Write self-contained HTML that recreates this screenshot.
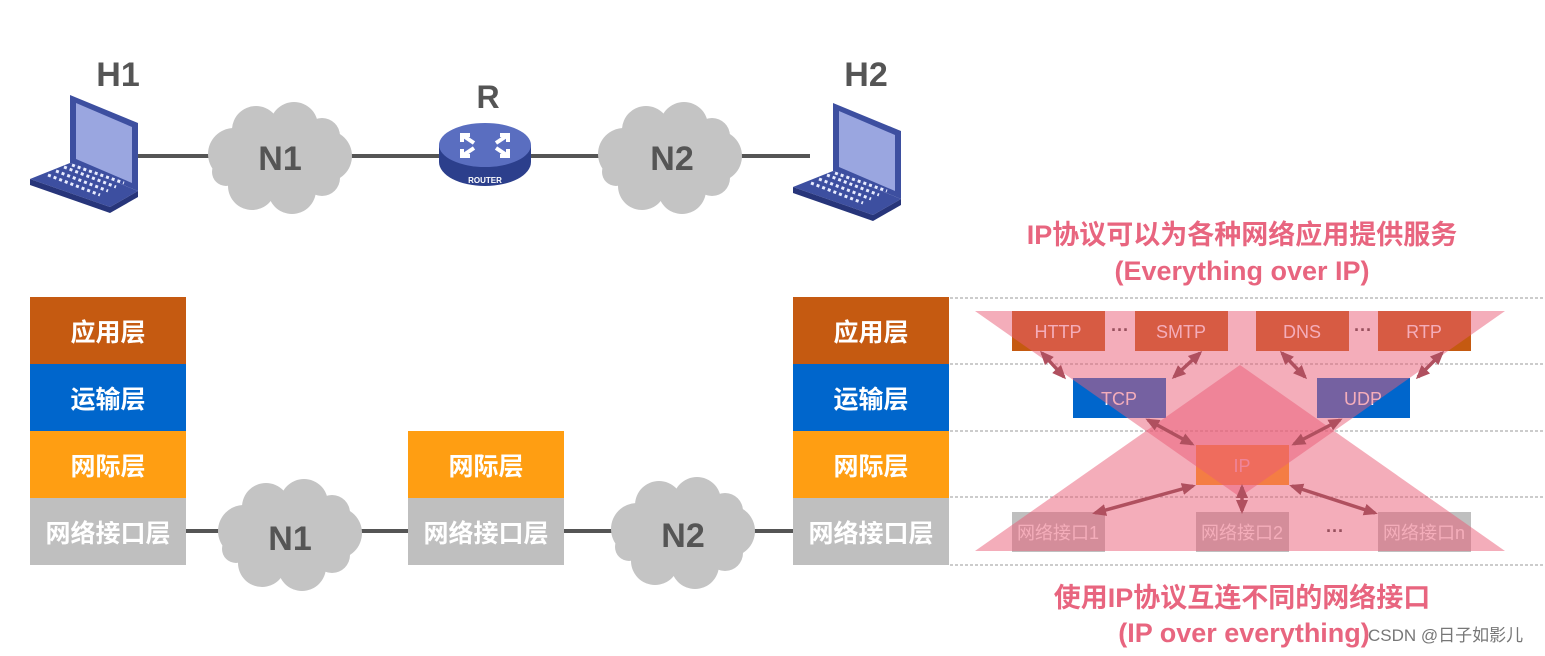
<!DOCTYPE html>
<html><head><meta charset="utf-8"><style>
html,body{margin:0;padding:0;background:#fff;}
svg{display:block;}
text{font-family:"Liberation Sans","Noto Sans CJK SC",sans-serif;}
</style></head><body>
<svg width="1545" height="656" viewBox="0 0 1545 656" xmlns="http://www.w3.org/2000/svg">
<defs>
<g id="cloud"><g fill="#c4c4c4">
<ellipse cx="0" cy="0" rx="60" ry="40"/>
<circle cx="-46" cy="-4" r="26"/><circle cx="46" cy="-2" r="26"/>
<circle cx="-24" cy="-28" r="24"/><circle cx="14" cy="-32" r="24"/><circle cx="42" cy="-22" r="18"/>
<circle cx="-28" cy="28" r="24"/><circle cx="12" cy="32" r="24"/><circle cx="42" cy="20" r="18"/><circle cx="-54" cy="14" r="14"/>
</g></g>
<g id="laptop">
<polygon points="40,0 108,28 108,96 40,68" fill="#3d4fa0"/>
<polygon points="46,8 102,32 102,88 46,64" fill="#9aa6e0"/>
<polygon points="40,68 108,96 80,112 0,84" fill="#3d4fa0"/>
<polygon points="0,84 80,112 80,118 0,90" fill="#27357a"/>
<polygon points="80,112 108,96 108,102 80,118" fill="#27357a"/>
<g stroke="#e8ecff" stroke-width="3" stroke-dasharray="3 3">
<line x1="18" y1="80" x2="70" y2="100"/><line x1="26" y1="76" x2="78" y2="96"/><line x1="34" y1="72" x2="86" y2="92"/><line x1="42" y1="70" x2="94" y2="88"/>
</g>
</g>
<marker id="ah" markerUnits="userSpaceOnUse" markerWidth="14" markerHeight="14" refX="11" refY="7" orient="auto-start-reverse"><path d="M0,1 L14,7 L0,13z" fill="#b0505f"/></marker>
</defs>

<g stroke="#555" stroke-width="4">
<line x1="135" y1="156" x2="810" y2="156"/>
</g>
<use href="#laptop" x="30" y="95"/>
<use href="#laptop" x="793" y="103"/>
<use href="#cloud" x="280" y="158"/>
<use href="#cloud" x="670" y="158"/>
<text x="280" y="170" font-size="34" font-weight="bold" fill="#555" text-anchor="middle">N1</text>
<text x="672" y="170" font-size="34" font-weight="bold" fill="#555" text-anchor="middle">N2</text>
<text x="118" y="86" font-size="34" font-weight="bold" fill="#555" text-anchor="middle">H1</text>
<text x="866" y="86" font-size="34" font-weight="bold" fill="#555" text-anchor="middle">H2</text>
<text x="488" y="108" font-size="32" font-weight="bold" fill="#555" text-anchor="middle">R</text>
<ellipse cx="485" cy="162" rx="46" ry="24" fill="#2c3f8c"/>
<rect x="439" y="145" width="92" height="17" fill="#2c3f8c"/>
<ellipse cx="485" cy="145" rx="46" ry="22" fill="#5a6ec0"/>
<g stroke="#fff" stroke-width="4" fill="none">
<path d="M462,135 l12,8 M470,135h-8v7 M508,135 l-12,8 M500,135h8v7 M462,156 l12,-8 M462,149v7h8 M508,156 l-12,-8 M508,149v7h-8"/>
</g>
<text x="485" y="183" font-size="8" font-weight="bold" fill="#fff" text-anchor="middle">ROUTER</text>

<g stroke="#555" stroke-width="4"><line x1="185" y1="531" x2="800" y2="531"/></g>
<use href="#cloud" x="290" y="535"/>
<use href="#cloud" x="683" y="533"/>
<text x="290" y="550" font-size="34" font-weight="bold" fill="#555" text-anchor="middle">N1</text>
<text x="683" y="547" font-size="34" font-weight="bold" fill="#555" text-anchor="middle">N2</text>

<g font-size="25" font-weight="bold" fill="#fff" text-anchor="middle">
<rect x="30" y="297" width="156" height="67" fill="#c55a11"/>
<rect x="30" y="364" width="156" height="67" fill="#0066cc"/>
<rect x="30" y="431" width="156" height="67" fill="#ff9e12"/>
<rect x="30" y="498" width="156" height="67" fill="#bfbfbf"/>
<text x="108" y="341">应用层</text><text x="108" y="408">运输层</text><text x="108" y="475">网际层</text><text x="108" y="542">网络接口层</text>
<rect x="408" y="431" width="156" height="67" fill="#ff9e12"/>
<rect x="408" y="498" width="156" height="67" fill="#bfbfbf"/>
<text x="486" y="475">网际层</text><text x="486" y="542">网络接口层</text>
<rect x="793" y="297" width="156" height="67" fill="#c55a11"/>
<rect x="793" y="364" width="156" height="67" fill="#0066cc"/>
<rect x="793" y="431" width="156" height="67" fill="#ff9e12"/>
<rect x="793" y="498" width="156" height="67" fill="#bfbfbf"/>
<text x="871" y="341">应用层</text><text x="871" y="408">运输层</text><text x="871" y="475">网际层</text><text x="871" y="542">网络接口层</text>
</g>

<g stroke="#999" stroke-width="1" stroke-dasharray="3 2">
<line x1="950" y1="298" x2="1545" y2="298"/><line x1="950" y1="364" x2="1545" y2="364"/>
<line x1="950" y1="431" x2="1545" y2="431"/><line x1="950" y1="497" x2="1545" y2="497"/>
<line x1="950" y1="565" x2="1545" y2="565"/>
</g>

<g font-size="18" fill="#fff" text-anchor="middle">
<rect x="1012" y="311" width="93" height="40" fill="#c55a11"/><text x="1058" y="338">HTTP</text>
<rect x="1135" y="311" width="93" height="40" fill="#c55a11"/><text x="1181" y="338">SMTP</text>
<rect x="1256" y="311" width="93" height="40" fill="#c55a11"/><text x="1302" y="338">DNS</text>
<rect x="1378" y="311" width="93" height="40" fill="#c55a11"/><text x="1424" y="338">RTP</text>
<rect x="1073" y="378" width="93" height="40" fill="#0066cc"/><text x="1119" y="405">TCP</text>
<rect x="1317" y="378" width="93" height="40" fill="#0066cc"/><text x="1363" y="405">UDP</text>
<rect x="1196" y="445" width="93" height="40" fill="#ff9e12"/><text x="1242" y="472">IP</text>
<rect x="1012" y="512" width="93" height="40" fill="#bfbfbf"/><text x="1058" y="539">网络接口1</text>
<rect x="1196" y="512" width="93" height="40" fill="#bfbfbf"/><text x="1242" y="539">网络接口2</text>
<rect x="1378" y="512" width="93" height="40" fill="#bfbfbf"/><text x="1424" y="539">网络接口n</text>
</g>
<g font-size="18" font-weight="bold" fill="#444" text-anchor="middle">
<text x="1120" y="336">···</text><text x="1363" y="336">···</text><text x="1335" y="537">···</text>
</g>

<polygon points="975,311 1505,311 1240,497" fill="#ea5b75" fill-opacity="0.5"/>
<polygon points="975,551 1505,551 1240,365" fill="#ea5b75" fill-opacity="0.5"/>

<g stroke="#b0505f" stroke-width="3.5" marker-start="url(#ah)" marker-end="url(#ah)">
<line x1="1042" y1="353" x2="1064" y2="377"/>
<line x1="1200" y1="353" x2="1174" y2="377"/>
<line x1="1282" y1="353" x2="1305" y2="377"/>
<line x1="1442" y1="353" x2="1418" y2="377"/>
<line x1="1148" y1="420" x2="1192" y2="444"/>
<line x1="1340" y1="420" x2="1294" y2="444"/>
<line x1="1193" y1="486" x2="1095" y2="513"/>
<line x1="1242" y1="487" x2="1242" y2="511"/>
<line x1="1292" y1="486" x2="1375" y2="513"/>
</g>

<g font-size="27" font-weight="bold" fill="#e8657f" text-anchor="middle">
<text x="1242" y="244">IP协议可以为各种网络应用提供服务</text>
<text x="1242" y="280">(Everything over IP)</text>
<text x="1242" y="607">使用IP协议互连不同的网络接口</text>
<text x="1244" y="642">(IP over everything)</text>
</g>
<text x="1368" y="641" font-size="17" fill="#777">CSDN @日子如影儿</text>
</svg>
</body></html>
